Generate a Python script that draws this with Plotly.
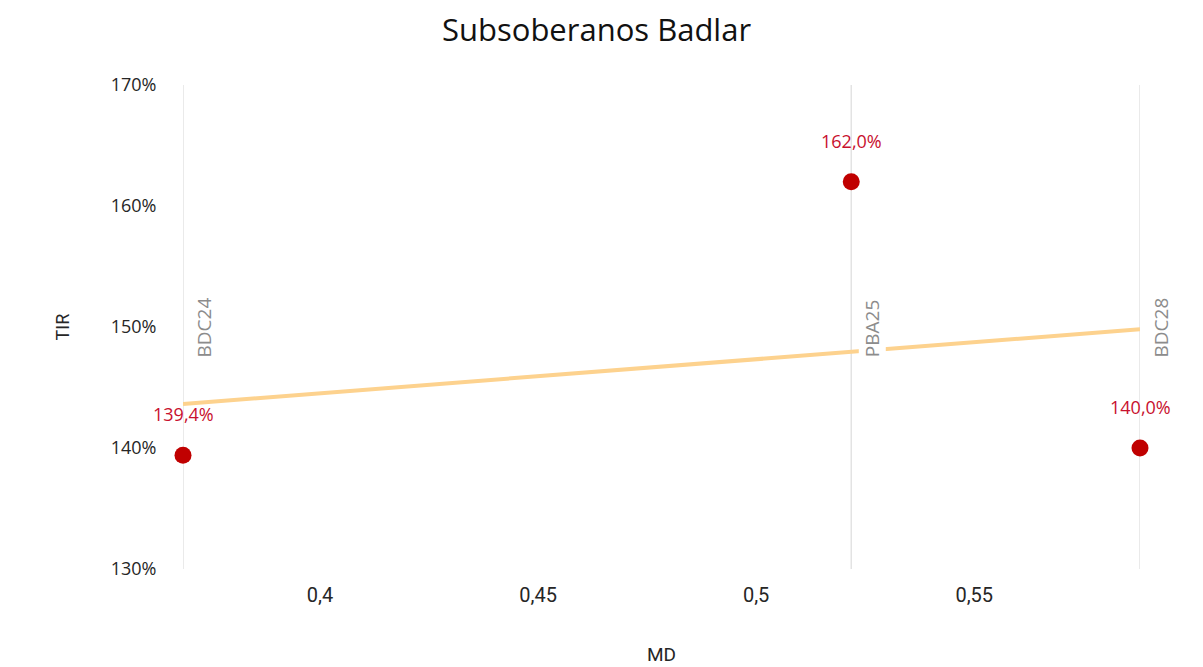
import numpy as np
import plotly.graph_objects as go

bonds = ["BDC24", "PBA25", "BDC28"]
md = [0.3686, 0.5218, 0.588]
tir = [139.4, 162.0, 140.0]
x_ticks = [0.4, 0.45, 0.5, 0.55]
y_ticks = [130, 140, 150, 160, 170]

FONT = "Open Sans"
FONT2 = "Roboto"
fig = go.Figure()

# vertical drop lines through each bond
for xv in md:
    fig.add_vline(x=xv, line=dict(color="#E3E3E3", width=1.5), layer="below")

# linear trend
coef = np.polyfit(md, tir, 1)
tx = [min(md), max(md)]
ty = [coef[0] * v + coef[1] for v in tx]
fig.add_trace(go.Scatter(x=tx, y=ty, mode="lines",
                         line=dict(color="#FDD28E", width=4),
                         hoverinfo="skip", showlegend=False))

fig.add_trace(go.Scatter(x=md, y=tir, mode="markers", cliponaxis=False,
                         marker=dict(color="#C00000", size=17),
                         showlegend=False))

for b, xv, yv in zip(bonds, md, tir):
    fig.add_annotation(x=xv, y=147.4, text=b, textangle=-90, showarrow=False,
                       xanchor="center", yanchor="bottom", xshift=21,
                       bgcolor="white", borderpad=0,
                       font=dict(family=FONT, size=19, color="#8C8C8C"))
    fig.add_annotation(x=xv, y=yv, text=f"{yv:.1f}".replace(".", ",") + "%",
                       showarrow=False, yshift=41,
                       font=dict(family=FONT, size=18, color="#C8102E"))

fig.update_layout(
    width=1195, height=659,
    margin=dict(l=175, r=63, t=77, b=98, autoexpand=False),
    paper_bgcolor="white", plot_bgcolor="white",
    separators=",.",
    title=dict(text="Subsoberanos Badlar", x=0.4925, xref="container", xanchor="center",
               y=1 - 22 / 659, yref="container", yanchor="middle",
               font=dict(family=FONT, size=31, color="#111111")),
    font=dict(family=FONT, color="#262626"),
)
fig.update_xaxes(range=[min(md), max(md)], tickvals=x_ticks, automargin=False,
                 ticktext=[str(v).replace(".", ",") for v in x_ticks],
                 showgrid=False, zeroline=False, showline=False,
                 ticks="outside", ticklen=8, tickcolor="rgba(0,0,0,0)",
                 tickfont=dict(family=FONT2, size=20, color="#262626"),
                 title=dict(text="MD", standoff=41, font=dict(family=FONT2, size=19, color="#262626")))
fig.update_yaxes(range=[130, 170], tickvals=y_ticks, automargin=False,
                 ticktext=[f"{v}%" for v in y_ticks],
                 showgrid=False, zeroline=False, showline=False,
                 ticks="outside", ticklen=22, tickcolor="rgba(0,0,0,0)",
                 tickfont=dict(family=FONT, size=18, color="#262626"),
                 title=dict(text="TIR", standoff=36, font=dict(family=FONT2, size=18, color="#262626")))

fig.write_html("out.html")
